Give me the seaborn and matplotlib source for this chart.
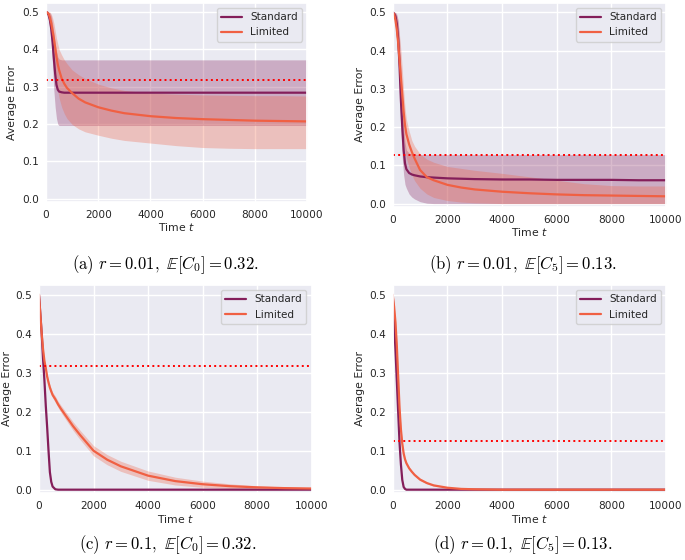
import numpy as np
import pandas as pd
import seaborn as sns
import matplotlib
matplotlib.use('Agg')
import matplotlib.pyplot as plt

# time grid shared by all four panels
t = [0, 50, 100, 150, 200, 250, 300, 350, 400, 450, 500, 600, 700, 800, 1000,
     1250, 1500, 2000, 2500, 3000, 4000, 5000, 6000, 7000, 8000, 9000, 10000]

# (a) r = 0.01, E[C0] = 0.32
std_a = [0.500, 0.499, 0.492, 0.478, 0.455, 0.420, 0.375, 0.335, 0.305, 0.292, 0.287, 0.285, 0.284, 0.284,
         0.284, 0.284, 0.284, 0.284, 0.284, 0.284, 0.284, 0.284, 0.284, 0.284, 0.284, 0.284, 0.284]
std_a_hi = [0.500, 0.500, 0.500, 0.498, 0.490, 0.470, 0.445, 0.415, 0.395, 0.380, 0.374, 0.372, 0.372, 0.372,
            0.372, 0.372, 0.372, 0.372, 0.372, 0.372, 0.372, 0.372, 0.372, 0.372, 0.372, 0.372, 0.372]
std_a_lo = [0.500, 0.495, 0.480, 0.455, 0.420, 0.360, 0.290, 0.245, 0.215, 0.200, 0.196, 0.196, 0.196, 0.196,
            0.196, 0.196, 0.196, 0.196, 0.196, 0.196, 0.196, 0.196, 0.196, 0.196, 0.196, 0.196, 0.196]
lim_a = [0.500, 0.499, 0.495, 0.485, 0.470, 0.450, 0.430, 0.405, 0.380, 0.360, 0.345, 0.322, 0.308, 0.297,
         0.283, 0.268, 0.258, 0.245, 0.236, 0.229, 0.221, 0.216, 0.213, 0.211, 0.209, 0.208, 0.207]
lim_a_hi = [0.500, 0.500, 0.500, 0.500, 0.495, 0.485, 0.470, 0.450, 0.430, 0.415, 0.400, 0.385, 0.372, 0.362,
            0.345, 0.332, 0.322, 0.307, 0.297, 0.290, 0.283, 0.280, 0.278, 0.277, 0.276, 0.276, 0.275]
lim_a_lo = [0.500, 0.497, 0.490, 0.470, 0.445, 0.410, 0.370, 0.335, 0.310, 0.290, 0.270, 0.245, 0.228, 0.215,
            0.199, 0.187, 0.179, 0.170, 0.162, 0.156, 0.149, 0.142, 0.137, 0.135, 0.134, 0.134, 0.134]

# (b) r = 0.01, E[C5] = 0.13
std_b = [0.500, 0.497, 0.490, 0.470, 0.430, 0.360, 0.270, 0.200, 0.140, 0.105, 0.090, 0.080, 0.076, 0.074,
         0.071, 0.069, 0.068, 0.066, 0.065, 0.064, 0.063, 0.063, 0.062, 0.062, 0.062, 0.061, 0.061]
std_b_hi = [0.500, 0.500, 0.500, 0.495, 0.480, 0.430, 0.350, 0.270, 0.200, 0.160, 0.140, 0.132, 0.130, 0.129,
            0.128, 0.128, 0.128, 0.128, 0.128, 0.128, 0.128, 0.128, 0.128, 0.128, 0.128, 0.128, 0.128]
std_b_lo = [0.500, 0.490, 0.470, 0.440, 0.380, 0.280, 0.190, 0.120, 0.075, 0.050, 0.040, 0.025, 0.017, 0.012,
            0.005, 0.001, 0.000, 0.000, 0.000, 0.000, 0.000, 0.000, 0.000, 0.000, 0.000, 0.000, 0.000]
lim_b = [0.500, 0.495, 0.480, 0.455, 0.420, 0.375, 0.330, 0.285, 0.240, 0.205, 0.182, 0.155, 0.135, 0.118,
         0.088, 0.069, 0.061, 0.049, 0.042, 0.037, 0.031, 0.027, 0.024, 0.022, 0.021, 0.020, 0.019]
lim_b_hi = [0.500, 0.500, 0.500, 0.490, 0.470, 0.440, 0.400, 0.350, 0.295, 0.250, 0.220, 0.190, 0.165, 0.150,
            0.130, 0.116, 0.108, 0.097, 0.092, 0.087, 0.079, 0.070, 0.061, 0.052, 0.047, 0.046, 0.046]
lim_b_lo = [0.500, 0.490, 0.460, 0.420, 0.370, 0.310, 0.260, 0.210, 0.170, 0.140, 0.120, 0.095, 0.075, 0.060,
            0.040, 0.025, 0.016, 0.008, 0.004, 0.002, 0.000, 0.000, 0.000, 0.000, 0.000, 0.000, 0.000]

# (c) r = 0.1, E[C0] = 0.32
std_c = [0.500, 0.450, 0.400, 0.335, 0.280, 0.215, 0.160, 0.100, 0.045, 0.020, 0.008, 0.001, 0.000, 0.000,
         0.000, 0.000, 0.000, 0.000, 0.000, 0.000, 0.000, 0.000, 0.000, 0.000, 0.000, 0.000, 0.000]
lim_c = [0.500, 0.450, 0.400, 0.360, 0.330, 0.312, 0.290, 0.275, 0.262, 0.252, 0.243, 0.232, 0.219, 0.208,
         0.188, 0.163, 0.141, 0.100, 0.077, 0.060, 0.036, 0.022, 0.014, 0.009, 0.006, 0.004, 0.003]
lim_c_hi = [0.500, 0.452, 0.404, 0.364, 0.335, 0.317, 0.296, 0.281, 0.269, 0.259, 0.250, 0.240, 0.227, 0.217,
            0.198, 0.174, 0.153, 0.113, 0.090, 0.073, 0.048, 0.032, 0.022, 0.015, 0.010, 0.007, 0.005]
lim_c_lo = [0.500, 0.448, 0.396, 0.356, 0.325, 0.307, 0.284, 0.269, 0.255, 0.245, 0.236, 0.224, 0.211, 0.199,
            0.178, 0.152, 0.129, 0.087, 0.064, 0.047, 0.024, 0.012, 0.006, 0.003, 0.002, 0.001, 0.001]

# (d) r = 0.1, E[C5] = 0.13
std_d = [0.500, 0.430, 0.360, 0.280, 0.200, 0.120, 0.065, 0.025, 0.007, 0.002, 0.000, 0.000, 0.000, 0.000,
         0.000, 0.000, 0.000, 0.000, 0.000, 0.000, 0.000, 0.000, 0.000, 0.000, 0.000, 0.000, 0.000]
lim_d = [0.500, 0.470, 0.430, 0.370, 0.290, 0.210, 0.155, 0.118, 0.093, 0.078, 0.068, 0.055, 0.046, 0.038,
         0.026, 0.017, 0.011, 0.005, 0.002, 0.001, 0.000, 0.000, 0.000, 0.000, 0.000, 0.000, 0.000]
lim_d_hi = [0.500, 0.475, 0.436, 0.377, 0.297, 0.217, 0.161, 0.123, 0.098, 0.082, 0.072, 0.059, 0.049, 0.041,
            0.029, 0.019, 0.013, 0.006, 0.003, 0.001, 0.000, 0.000, 0.000, 0.000, 0.000, 0.000, 0.000]
lim_d_lo = [0.500, 0.465, 0.424, 0.363, 0.283, 0.203, 0.149, 0.113, 0.088, 0.074, 0.064, 0.051, 0.043, 0.035,
            0.023, 0.015, 0.009, 0.004, 0.001, 0.000, 0.000, 0.000, 0.000, 0.000, 0.000, 0.000, 0.000]

baselines = [0.318, 0.126, 0.318, 0.126]
captions = [r"$\mathrm{(a)}\ r = 0.01,\ \mathbb{E}[C_0] = 0.32.$",
            r"$\mathrm{(b)}\ r = 0.01,\ \mathbb{E}[C_5] = 0.13.$",
            r"$\mathrm{(c)}\ r = 0.1,\ \mathbb{E}[C_0] = 0.32.$",
            r"$\mathrm{(d)}\ r = 0.1,\ \mathbb{E}[C_5] = 0.13.$"]

sns.set_theme(style='darkgrid')
std_color, lim_color = sns.color_palette('rocket', 2)

fig = plt.figure(figsize=(6.85, 5.6), dpi=100)

boxes = [[0.0672, 0.640, 0.381, 0.355],
         [0.5733, 0.631, 0.399, 0.364],
         [0.0569, 0.120, 0.398, 0.371],
         [0.5733, 0.120, 0.399, 0.371]]
cap_pos = [(0.242, 0.527), (0.763, 0.527), (0.245, 0.027), (0.763, 0.027)]
# x of the y label (its right edge) in axes coords
ylab_x = [-0.111, -0.101, -0.099, -0.101]

panels = [
    (std_a, std_a_lo, std_a_hi, lim_a, lim_a_lo, lim_a_hi),
    (std_b, std_b_lo, std_b_hi, lim_b, lim_b_lo, lim_b_hi),
    (std_c, None, None, lim_c, lim_c_lo, lim_c_hi),
    (std_d, None, None, lim_d, lim_d_lo, lim_d_hi),
]

for i, (s, s_lo, s_hi, l, l_lo, l_hi) in enumerate(panels):
    ax = fig.add_axes(boxes[i])
    if s_lo is not None:
        ax.fill_between(t, s_lo, s_hi, color=std_color, alpha=0.3, linewidth=0)
    ax.fill_between(t, l_lo, l_hi, color=lim_color, alpha=0.3, linewidth=0)
    sns.lineplot(x=t, y=s, ax=ax, color=std_color, linewidth=1.6, label='Standard')
    sns.lineplot(x=t, y=l, ax=ax, color=lim_color, linewidth=1.6, label='Limited')
    ax.axhline(baselines[i], color='red', linestyle=':', linewidth=1.4)

    ax.set_xlim(0, 10000)
    ax.set_ylim(-0.008, 0.525)
    ax.set_xticks([0, 2000, 4000, 6000, 8000, 10000])
    ax.set_yticks([0.0, 0.1, 0.2, 0.3, 0.4, 0.5])
    ax.tick_params(axis='y', labelsize=7.6, length=0, pad=5)
    ax.tick_params(axis='x', labelsize=7.6, length=0, pad=6)
    ax.set_xlabel(r'Time $t$', fontsize=7.8, labelpad=1)
    ax.set_ylabel('Average Error', fontsize=7.8)
    ax.yaxis.set_label_coords(ylab_x[i], 0.5)
    ax.legend(loc='upper right', fontsize=7.5)

    fig.text(cap_pos[i][0], cap_pos[i][1], captions[i], ha='center', va='center',
             fontsize=12, math_fontfamily='cm', color='black')

fig.savefig('out.png', dpi=100)
